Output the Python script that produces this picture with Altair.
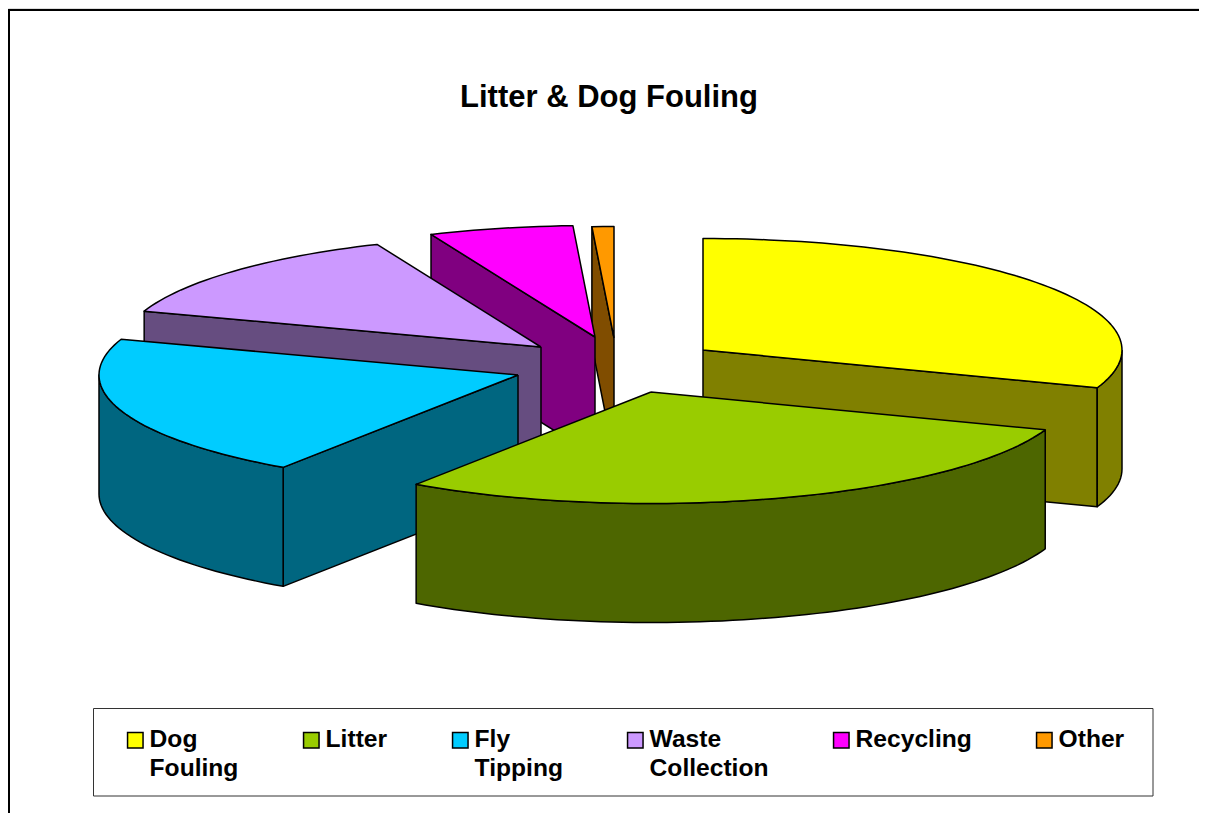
import math
import altair as alt
import pandas as pd

TITLE = "Litter & Dog Fouling"
categories = ["Dog Fouling", "Litter", "Fly Tipping", "Waste Collection", "Recycling", "Other"]
shares = [30.5, 28.97, 20.73, 13.4, 5.56, 0.84]
top_colors = ["#FFFF00", "#99CC00", "#00CCFF", "#CC99FF", "#FF00FF", "#FF9900"]
side_colors = ["#808000", "#4D6600", "#006680", "#664D80", "#800080", "#804D00"]

# exploded slice apexes and the projection of the disc, in page units
apex_x = [703, 651, 518, 541, 595, 614]
apex_y = [350, 392, 375, 347, 337, 338]
RX, RY, DEPTH = 419, 111.5, 119
draw_order = [5, 4, 3, 2, 0, 1]

X_DOM = [8, 1199]
Y_DOM = [813, 8]
x_enc = alt.X("x:Q", axis=None, scale=alt.Scale(domain=X_DOM, nice=False, zero=False))
y_enc = alt.Y("y:Q", axis=None, scale=alt.Scale(domain=Y_DOM, nice=False, zero=False))
color_scale = alt.Scale(domain=categories, range=top_colors)
shared_legend = alt.Legend(
    title=None, orient="none", legendX=115, legendY=720, columns=6, gridAlign="each",
    columnPadding=60, padding=0, symbolType="square", symbolSize=240, zindex=1,
    symbolStrokeColor="black", symbolStrokeWidth=1.5, symbolOpacity=1,
    labelFont="Liberation Sans", labelFontSize=24.6, labelFontWeight="bold", labelColor="black",
    labelLimit=400, labelOffset=2,
    labelExpr="[split(datum.label, ' ')[0], split(datum.label, ' ')[1] || '\u00a0']")


def rim(cx, cy, a0, a1, dz=0):
    n = max(2, int(abs(a1 - a0) / 1.5))
    out = []
    for k in range(n + 1):
        a = math.radians(a0 + (a1 - a0) * k / n)
        out.append((cx + RX * math.sin(a), cy - RY * math.cos(a) + dz))
    return out


def poly(points, color=None, name=None):
    pts = list(points) + [points[0]]
    df = pd.DataFrame({"x": [p[0] for p in pts], "y": [p[1] for p in pts],
                       "i": list(range(len(pts))), "slice": name})
    if color is not None:
        return alt.Chart(df).mark_line(fill=color, stroke="black", strokeWidth=1.5, strokeJoin="round").encode(
            x=x_enc, y=y_enc, order="i:Q")
    return alt.Chart(df).mark_line(stroke="black", strokeWidth=1.5, strokeJoin="round").encode(
        x=x_enc, y=y_enc, order="i:Q",
        fill=alt.Fill("slice:N", scale=color_scale, legend=shared_legend))


# cumulative angles, clockwise from twelve o'clock
ends = []
run = 0.0
for s in shares:
    run += s
    ends.append(run * 3.6)
starts = [0.0] + ends[:-1]

layers = []
for i in draw_order:
    cx, cy, a0, a1 = apex_x[i], apex_y[i], starts[i], ends[i]
    sc = side_colors[i]
    if 180 < a0 < 360:
        p = rim(cx, cy, a0, a0)[0]
        layers.append(poly([(cx, cy), p, (p[0], p[1] + DEPTH), (cx, cy + DEPTH)], sc))
    if 0 < a1 < 180:
        p = rim(cx, cy, a1, a1)[0]
        layers.append(poly([(cx, cy), p, (p[0], p[1] + DEPTH), (cx, cy + DEPTH)], sc))
    lo, hi = max(a0, 90), min(a1, 270)
    if lo < hi:
        up = rim(cx, cy, lo, hi)
        down = rim(cx, cy, hi, lo, DEPTH)
        layers.append(poly(up + down, sc))
    layers.append(poly([(cx, cy)] + rim(cx, cy, a0, a1), None, categories[i]))

# page frame (left and top edges)
frame_left = alt.Chart(pd.DataFrame({"x": [9], "y": [10], "y2": [813]})).mark_rule(
    color="black", strokeWidth=2).encode(x=x_enc, y=y_enc, y2="y2:Q")
frame_top = alt.Chart(pd.DataFrame({"x": [8], "x2": [1199], "y": [10]})).mark_rule(
    color="black", strokeWidth=2).encode(x=x_enc, x2="x2:Q", y=y_enc)

# legend box
box = alt.Chart(pd.DataFrame({"x": [93.5], "x2": [1153], "y": [708.5], "y2": [796]})).mark_rect(
    fill="white", stroke="#333333", strokeWidth=1).encode(x=x_enc, x2="x2:Q", y=y_enc, y2="y2:Q")

chart = alt.layer(frame_left, frame_top, *layers, box).properties(
    width=1191, height=805, padding=0, autosize=alt.AutoSizeParams(type="none"),
    background="white",
    title=alt.TitleParams(TITLE, font="Liberation Sans", fontSize=31, fontWeight="bold", color="black",
                          anchor="middle", baseline="alphabetic", dx=5.5, dy=134),
).configure_view(stroke=None).configure(style={"guide-label": {"lineHeight": 29}})

chart.save("out.html", embed_options={"renderer": "svg", "actions": False})
